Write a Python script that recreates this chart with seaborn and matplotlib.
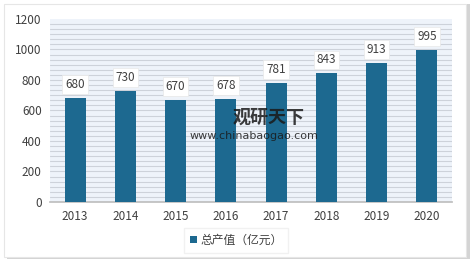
import numpy as np
import pandas as pd
import seaborn as sns
import matplotlib.pyplot as plt
from matplotlib.patches import Rectangle

# 数据
years = ["2013", "2014", "2015", "2016", "2017", "2018", "2019", "2020"]
values = [680, 730, 670, 678, 781, 843, 913, 995]
series_name = "总产值（亿元）"
yticks = [0, 200, 400, 600, 800, 1000, 1200]

bar_color = "#1D6990"

sns.set_theme(style="white")
plt.rcParams['font.family'] = ['Noto Sans CJK SC', 'DejaVu Sans']

df = pd.DataFrame({"year": years, "value": values, "series": series_name})

fig = plt.figure(figsize=(4.74, 2.64), dpi=100)
fig.patch.set_facecolor("#FFFFFF")

# 外框阴影 (背景轴)
bg = fig.add_axes([0, 0, 1, 1], zorder=0)
bg.set_axis_off()
bg.set_xlim(0, 1)
bg.set_ylim(0, 1)
bg.add_patch(Rectangle((0.014, 0.018), 0.978, 0.965, facecolor="#D4D4D4", edgecolor="none"))
bg.add_patch(Rectangle((0.008, 0.028), 0.975, 0.955, facecolor="#FFFFFF", edgecolor="#E6E6E6", lw=0.8))

ax = fig.add_axes([0.1055, 0.235, 0.848, 0.693], zorder=1)
ax.set_facecolor("#EEF3FA")

# 背景条纹
for y in np.arange(0, 1200, 1200 / 36):
    ax.axhline(y, color="#CDD2DA", lw=0.8, zorder=0)

sns.barplot(data=df, x="year", y="value", hue="series", palette=[bar_color],
            width=0.42, ax=ax, zorder=3, saturation=1, edgecolor="none", linewidth=0)

ax.set_ylim(0, 1200)
ax.set_yticks(yticks)
ax.set_xlim(-0.5, len(years) - 0.5)
ax.set_xlabel("")
ax.set_ylabel("")
ax.tick_params(axis="both", labelsize=8.5, colors="#404040", length=0, pad=6)
for s in ["top", "right", "left"]:
    ax.spines[s].set_visible(False)
ax.spines["bottom"].set_color("#BFBFBF")

for i, v in enumerate(values):
    ax.annotate(str(v), (i, v), xytext=(0, 5), textcoords="offset points",
                ha="center", va="bottom", fontsize=8.5, color="#404040", zorder=5,
                bbox=dict(boxstyle="square,pad=0.25", fc="white", ec="#E8E8E8", lw=0.5))

leg = ax.legend(loc="upper center", bbox_to_anchor=(0.463, -0.11), frameon=True,
                fontsize=8.5, handlelength=0.6, handleheight=0.6, handletextpad=0.3,
                borderpad=0.5, fancybox=False)
leg.get_frame().set_edgecolor("#EEEEEE")
for t in leg.get_texts():
    t.set_color("#404040")

# 水印
fig.text(0.49, 0.535, "观研天下", fontsize=13, fontweight="bold", color="#1A1A1A", alpha=0.85, zorder=10)
fig.text(0.40, 0.475, "www.chinabaogao.com", fontsize=8, color="#1A1A1A", alpha=0.85,
         family=["DejaVu Sans"], zorder=10)

fig.savefig("out.png", dpi=100)
